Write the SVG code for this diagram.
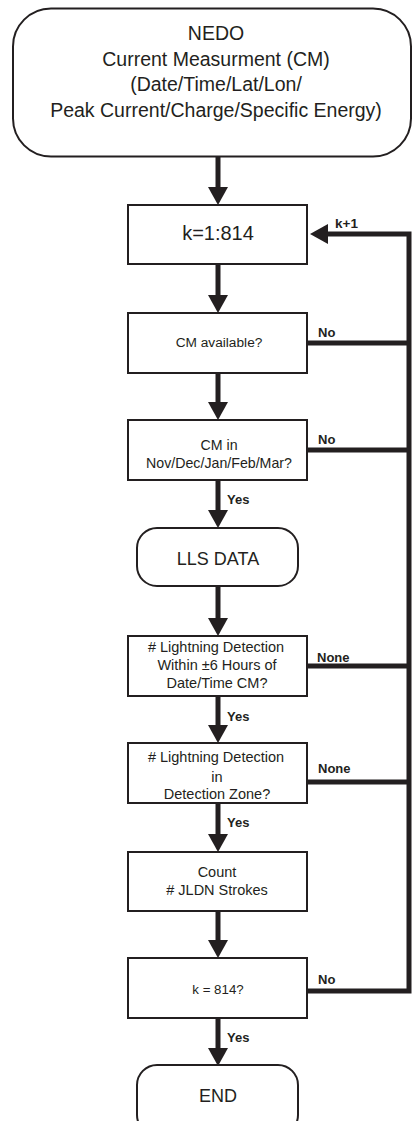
<svg xmlns="http://www.w3.org/2000/svg" width="412" height="1121" viewBox="0 0 412 1121">
<style>
.box{fill:#fff;stroke:#231f20;stroke-width:2}
.t{font-family:"Liberation Sans",Arial,sans-serif;fill:#231f20;text-anchor:middle}
.lb{font-family:"Liberation Sans",Arial,sans-serif;fill:#231f20;font-weight:bold;font-size:13px}
.c{fill:none;stroke:#231f20;stroke-width:5;stroke-linejoin:miter}
</style>
<defs>
<marker id="ah" markerUnits="userSpaceOnUse" markerWidth="18" markerHeight="20" refX="0" refY="10" orient="auto" overflow="visible">
<path d="M0,0 L18,10 L0,20 Z" fill="#231f20"/>
</marker>
</defs>
<rect width="412" height="1121" fill="#fff"/>
<g id="connectors">
<line class="c" x1="218" y1="157" x2="218" y2="187" marker-end="url(#ah)"/>
<line class="c" x1="218" y1="264" x2="218" y2="295" marker-end="url(#ah)"/>
<line class="c" x1="218" y1="373" x2="218" y2="402" marker-end="url(#ah)"/>
<line class="c" x1="218" y1="480" x2="218" y2="510" marker-end="url(#ah)"/>
<line class="c" x1="218" y1="586" x2="218" y2="618" marker-end="url(#ah)"/>
<line class="c" x1="218" y1="696" x2="218" y2="725" marker-end="url(#ah)"/>
<line class="c" x1="218" y1="803" x2="218" y2="834" marker-end="url(#ah)"/>
<line class="c" x1="218" y1="911" x2="218" y2="940" marker-end="url(#ah)"/>
<line class="c" x1="218" y1="1018" x2="218" y2="1048" marker-end="url(#ah)"/>
<path class="c" d="M307,991 H409 V234 H328" marker-end="url(#ah)"/>
<path class="c" d="M307,343 H409"/>
<path class="c" d="M307,450 H409"/>
<path class="c" d="M307,666 H409"/>
<path class="c" d="M307,782 H409"/>
<text class="lb" x="335" y="228" style="font-size:13.5px">k+1</text>
<text class="lb" x="318" y="337">No</text>
<text class="lb" x="318" y="444">No</text>
<text class="lb" x="317" y="662">None</text>
<text class="lb" x="318" y="773">None</text>
<text class="lb" x="318" y="984">No</text>
<text class="lb" x="227" y="504">Yes</text>
<text class="lb" x="227" y="721">Yes</text>
<text class="lb" x="227" y="827">Yes</text>
<text class="lb" x="227" y="1042">Yes</text>
</g>
<g id="nedo">
<rect class="box" x="13" y="8.5" width="398" height="148" rx="38"/>
<text class="t" x="216" y="40" font-size="19.5">NEDO</text>
<text class="t" x="216" y="66" font-size="19.5">Current Measurment (CM)</text>
<text class="t" x="216" y="91" font-size="19.5">(Date/Time/Lat/Lon/</text>
<text class="t" x="216" y="117" font-size="19.5">Peak Current/Charge/Specific Energy)</text>
</g>
<g id="loop">
<rect class="box" x="128" y="205" width="179" height="59"/>
<text class="t" x="218" y="240" font-size="20">k=1:814</text>
</g>
<g id="cm-available">
<rect class="box" x="128" y="313" width="179" height="60"/>
<text class="t" x="219" y="347" font-size="13.7">CM available?</text>
</g>
<g id="cm-months">
<rect class="box" x="128" y="420" width="179" height="60"/>
<text class="t" x="219" y="450" font-size="14.2">CM in</text>
<text class="t" x="219" y="468" font-size="14.2">Nov/Dec/Jan/Feb/Mar?</text>
</g>
<g id="lls">
<rect class="box" x="137" y="528" width="161" height="58" rx="20"/>
<text class="t" x="218" y="565" font-size="18">LLS DATA</text>
</g>
<g id="within-6h">
<rect class="box" x="128" y="636" width="179" height="60"/>
<text class="t" x="216" y="652" font-size="14.5">#&#160;Lightning Detection</text>
<text class="t" x="217" y="670" font-size="14.5">Within ±6 Hours of</text>
<text class="t" x="217" y="688" font-size="14.5">Date/Time CM?</text>
</g>
<g id="detection-zone">
<rect class="box" x="128" y="743" width="179" height="60"/>
<text class="t" x="216" y="762" font-size="14.5">#&#160;Lightning Detection</text>
<text class="t" x="217" y="782" font-size="14.5">in</text>
<text class="t" x="217" y="799" font-size="14.5">Detection Zone?</text>
</g>
<g id="count">
<rect class="box" x="128" y="852" width="179" height="59"/>
<text class="t" x="217" y="877" font-size="14.5">Count</text>
<text class="t" x="217" y="895" font-size="14.5">#&#160;JLDN Strokes</text>
</g>
<g id="k-check">
<rect class="box" x="128" y="958" width="179" height="60"/>
<text class="t" x="218" y="994" font-size="13.3">k = 814?</text>
</g>
<g id="end">
<rect class="box" x="137" y="1065" width="161" height="70" rx="20"/>
<text class="t" x="218" y="1102" font-size="18">END</text>
</g>
</svg>
